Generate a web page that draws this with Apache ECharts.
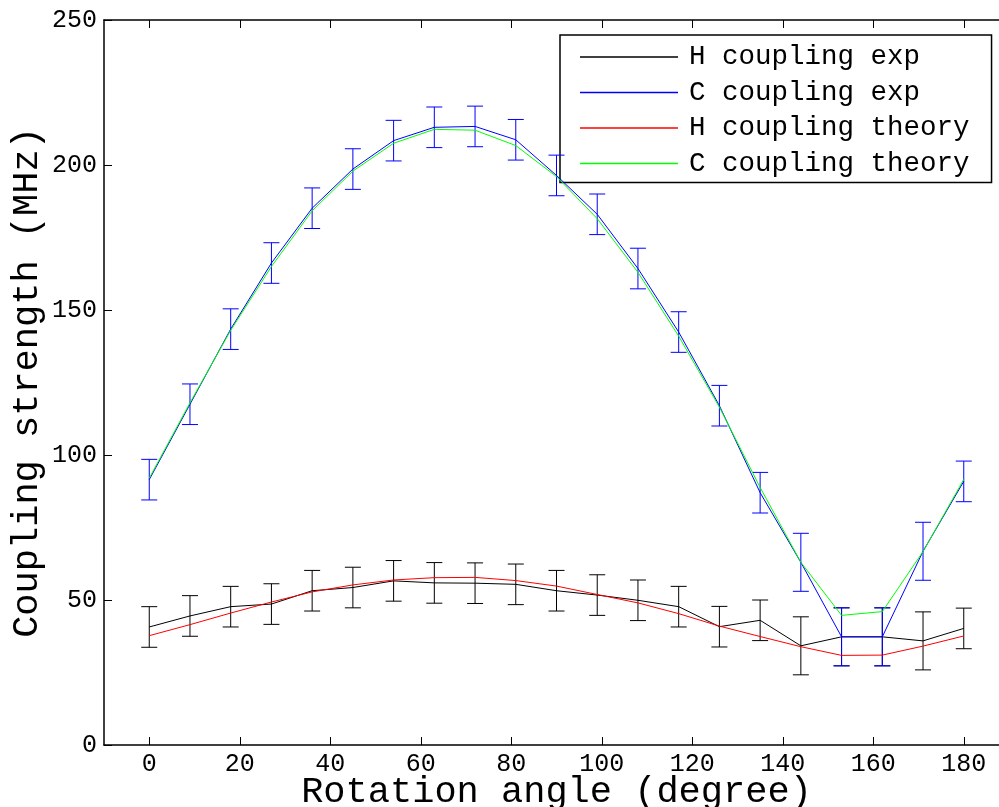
<!DOCTYPE html>
<html>
<head>
<meta charset="utf-8">
<script src="https://cdn.jsdelivr.net/npm/echarts@6/dist/echarts.min.js"></script>
<style>html,body{margin:0;padding:0;background:#fff}#c{width:999px;height:807px}</style>
</head>
<body>
<div id="c"></div>
<script>
const angles = [0, 9, 18, 27, 36, 45, 54, 63, 72, 81, 90, 99, 108, 117, 126, 135, 144, 153, 162, 171, 180];
const hExp = [40.7, 44.5, 47.7, 48.6, 53.2, 54.3, 56.6, 55.9, 55.8, 55.4, 53.2, 51.7, 49.9, 47.7, 40.8, 43.0, 34.2, 37.3, 37.3, 35.9, 40.2];
const hErr = [7, 7, 7, 7, 7, 7, 7, 7, 7, 7, 7, 7, 7, 7, 7, 7, 10, 10, 10, 10, 7];
const cExp = [91.5, 117.5, 143.4, 166.2, 185.1, 198.6, 208.4, 213.0, 213.3, 208.7, 196.4, 183.0, 164.3, 142.4, 117.0, 87.0, 63.0, 37.3, 37.3, 66.8, 90.9];
const cErr = [7, 7, 7, 7, 7, 7, 7, 7, 7, 7, 7, 7, 7, 7, 7, 7, 10, 10, 10, 10, 7];
const hTheory = [37.7, 41.5, 45.5, 49.3, 52.8, 55.2, 56.9, 57.7, 57.8, 56.7, 54.8, 51.9, 49.0, 45.3, 41.0, 37.4, 33.9, 30.9, 31.0, 34.1, 37.6];
const cTheory = [92.0, 118.0, 143.0, 165.0, 184.2, 197.9, 207.5, 212.3, 212.0, 206.7, 196.0, 181.5, 163.0, 141.0, 116.5, 88.8, 63.0, 44.7, 46.0, 66.7, 91.6];
const xTicks = [0, 20, 40, 60, 80, 100, 120, 140, 160, 180];
const seriesNames = ['H coupling exp', 'C coupling exp', 'H coupling theory', 'C coupling theory'];
const colors = ['#000000', '#0000ff', '#ff0000', '#00ff00'];

const FONT = 'Liberation Mono';

function pairs(vals) { return vals.map((v, i) => [angles[i], v]); }

function lineSeries(name, vals, color, z) {
  return {
    type: 'line', name: name, data: pairs(vals), symbol: 'none',
    lineStyle: { color: color, width: 1 }, itemStyle: { color: color },
    z: z, animation: false
  };
}

function errSeries(name, vals, errs, color, z) {
  return {
    type: 'custom', name: name, z: z, animation: false,
    data: vals.map((v, i) => [angles[i], v, errs[i]]),
    renderItem: function (params, api) {
      const x = api.value(0), y = api.value(1), e = api.value(2);
      const t = api.coord([x, y + e]);
      const b = api.coord([x, y - e]);
      const hw = 8;
      const st = { stroke: color, lineWidth: 1 };
      return {
        type: 'group', children: [
          { type: 'line', shape: { x1: t[0], y1: t[1], x2: b[0], y2: b[1] }, style: st },
          { type: 'line', shape: { x1: t[0] - hw, y1: t[1], x2: t[0] + hw, y2: t[1] }, style: st },
          { type: 'line', shape: { x1: b[0] - hw, y1: b[1], x2: b[0] + hw, y2: b[1] }, style: st }
        ]
      };
    }
  };
}

const chart = echarts.init(document.getElementById('c'), null, { renderer: 'canvas' });
chart.setOption({
  animation: false,
  backgroundColor: '#ffffff',
  grid: { left: 104, top: 20, right: -10, bottom: 62, containLabel: false, outerBoundsMode: 'none' },
  legend: {
    data: seriesNames,
    orient: 'vertical',
    left: 560, top: 35,
    icon: 'rect',
    itemWidth: 98, itemHeight: 1.5,
    itemGap: 5.5,
    padding: [7, 22, 4, 20],
    borderColor: '#000', borderWidth: 1.5,
    backgroundColor: '#fff',
    selectedMode: false,
    textStyle: { fontFamily: FONT, fontSize: 27.5, color: '#000', lineHeight: 30, padding: [0, 0, 0, 6] }
  },
  xAxis: [{
    type: 'value', min: -10, max: 190, position: 'bottom',
    name: 'Rotation angle (degree)', nameLocation: 'middle', nameGap: 29, nameMoveOverlap: false,
    nameTextStyle: { fontFamily: FONT, fontSize: 37, color: '#000' },
    axisLine: { show: true, onZero: false, lineStyle: { color: '#000', width: 1.5 } },
    axisTick: { show: true, inside: true, length: 8, customValues: xTicks, lineStyle: { color: '#000' } },
    axisLabel: { customValues: xTicks, fontFamily: FONT, fontSize: 25, color: '#000', margin: 7 },
    splitLine: { show: false }
  }, {
    type: 'value', min: -10, max: 190, position: 'top',
    axisLine: { show: true, onZero: false, lineStyle: { color: '#000', width: 1.5 } },
    axisTick: { show: true, inside: true, length: 8, customValues: xTicks, lineStyle: { color: '#000' } },
    axisLabel: { show: false },
    splitLine: { show: false }
  }],
  yAxis: [{
    type: 'value', min: 0, max: 250, interval: 50, position: 'left',
    name: 'Coupling strength (MHz)', nameLocation: 'middle', nameGap: 58, nameRotate: 90, nameMoveOverlap: false,
    nameTextStyle: { fontFamily: FONT, fontSize: 37, color: '#000' },
    axisLine: { show: true, onZero: false, lineStyle: { color: '#000', width: 1.5 } },
    axisTick: { show: true, inside: true, length: 8, lineStyle: { color: '#000' } },
    axisLabel: { fontFamily: FONT, fontSize: 25, color: '#000', margin: 7 },
    splitLine: { show: false }
  }, {
    type: 'value', min: 0, max: 250, interval: 50, position: 'right',
    axisLine: { show: true, onZero: false, lineStyle: { color: '#000', width: 1.5 } },
    axisTick: { show: true, inside: true, length: 8, lineStyle: { color: '#000' } },
    axisLabel: { show: false },
    splitLine: { show: false }
  }],
  series: [
    errSeries('H err', hExp, hErr, colors[0], 2),
    lineSeries(seriesNames[0], hExp, colors[0], 3),
    errSeries('C err', cExp, cErr, colors[1], 4),
    lineSeries(seriesNames[1], cExp, colors[1], 5),
    lineSeries(seriesNames[2], hTheory, colors[2], 6),
    lineSeries(seriesNames[3], cTheory, colors[3], 7)
  ]
});
</script>
</body>
</html>
